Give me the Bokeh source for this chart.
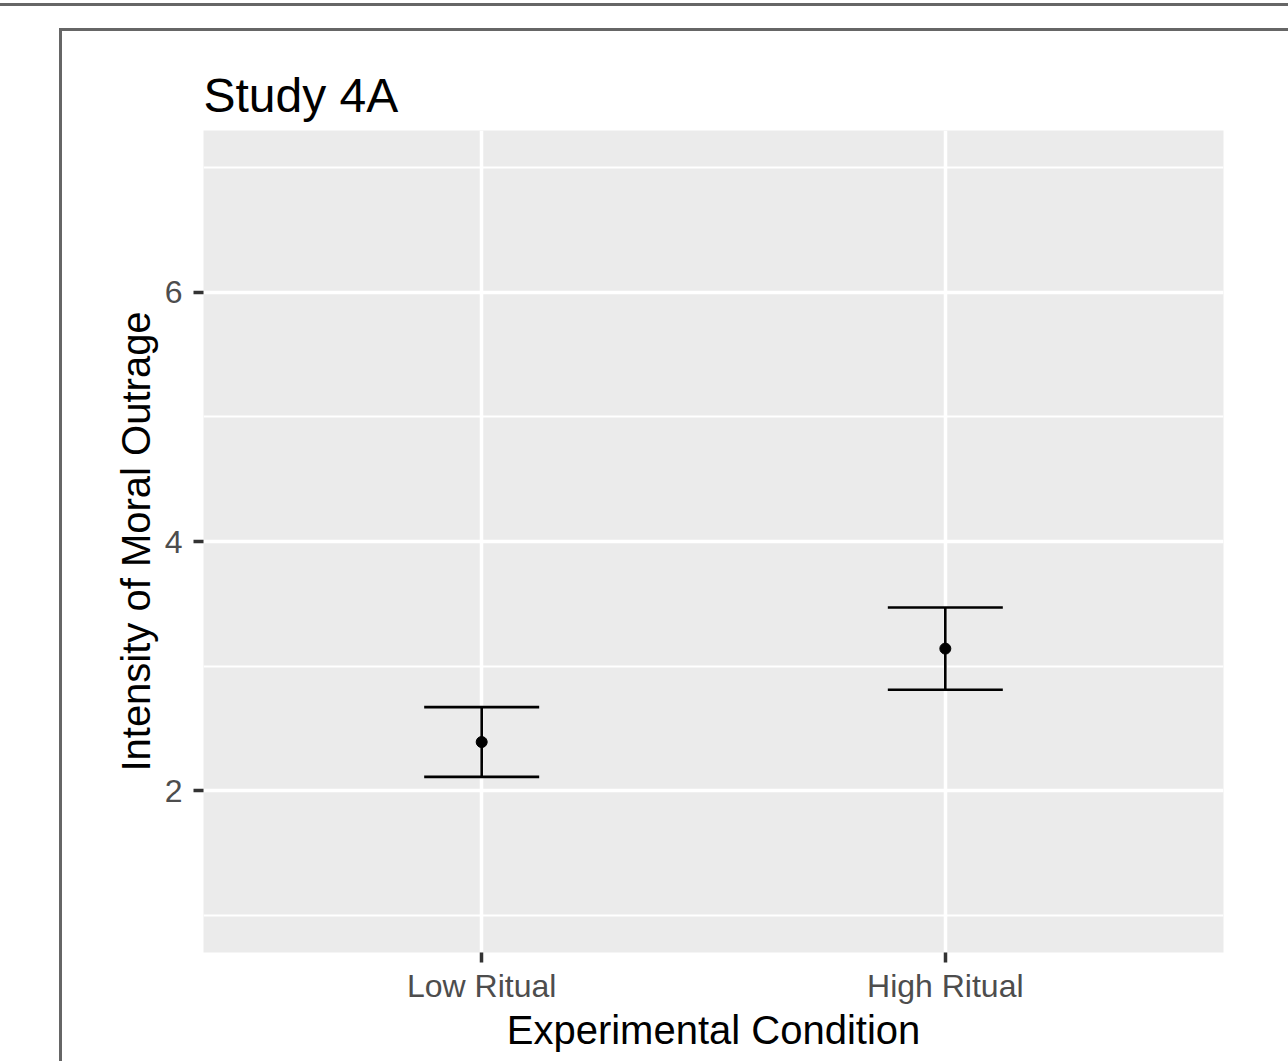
from bokeh.plotting import figure
from bokeh.models import FactorRange, Range1d, FixedTicker, ColumnDataSource, Whisker, TeeHead
from bokeh.embed import file_html
from bokeh.resources import INLINE

conditions = ["Low Ritual", "High Ritual"]
means = [2.39, 3.14]
lower = [2.11, 2.81]
upper = [2.67, 3.47]
y_major = [2, 4, 6]
y_minor = [1, 3, 5, 7]

FONT = "Liberation Sans"

p = figure(
    width=1288, height=1061,
    x_range=FactorRange(*conditions, range_padding=0.1),
    y_range=Range1d(0.7, 7.3),
    output_backend="svg", toolbar_location=None,
    min_border_left=203, min_border_right=65,
    min_border_top=130, min_border_bottom=109,
)
p.styles = {
    "background-color": "white",
    "background-image": "linear-gradient(#666,#666), linear-gradient(#666,#666), linear-gradient(#666,#666)",
    "background-size": "100% 3px, calc(100% - 59px) 3px, 3px calc(100% - 28px)",
    "background-position": "0px 3px, 59px 28px, 59px 28px",
    "background-repeat": "no-repeat",
}
p.border_fill_alpha = 0
p.background_fill_color = "#EBEBEB"
p.outline_line_color = None

# title
p.title.text = "Study 4A"
p.title.text_font = FONT
p.title.text_font_size = "48px"
p.title.text_font_style = "normal"
p.title.text_color = "black"
p.title.align = "left"
p.title.offset = 0
p.title.standoff = 18

# grids
p.xgrid.grid_line_color = "white"
p.xgrid.grid_line_width = 3.5
p.ygrid.ticker = FixedTicker(ticks=y_major, minor_ticks=y_minor)
p.ygrid.grid_line_color = "white"
p.ygrid.grid_line_width = 3.5
p.ygrid.minor_grid_line_color = "white"
p.ygrid.minor_grid_line_width = 1.8

# axes
p.yaxis.ticker = FixedTicker(ticks=y_major, minor_ticks=y_minor)
for ax in (p.xaxis[0], p.yaxis[0]):
    ax.axis_line_color = None
    ax.major_tick_line_color = "#333333"
    ax.major_tick_line_width = 3.5
    ax.major_tick_out = 10
    ax.major_tick_in = 0
    ax.minor_tick_line_color = None
    ax.major_label_text_font = FONT
    ax.major_label_text_font_size = "32px"
    ax.major_label_text_color = "#4D4D4D"
    ax.axis_label_text_font = FONT
    ax.axis_label_text_font_size = "40px"
    ax.axis_label_text_font_style = "normal"
    ax.axis_label_text_color = "black"

p.xaxis.axis_label = "Experimental Condition"
p.xaxis.major_label_standoff = 5
p.xaxis.axis_label_standoff = 1
p.yaxis.axis_label = "Intensity of Moral Outrage"
p.yaxis.major_label_standoff = 11
p.yaxis.axis_label_standoff = 4

src = ColumnDataSource(dict(cond=conditions, mean=means, lower=lower, upper=upper))

w = Whisker(
    source=src, base="cond", lower="lower", upper="upper",
    line_color="black", line_width=2.6,
    upper_head=TeeHead(size=115, line_color="black", line_width=2.6),
    lower_head=TeeHead(size=115, line_color="black", line_width=2.6),
)
p.add_layout(w)
p.scatter("cond", "mean", source=src, size=11, color="black")

open("out.html", "w").write(file_html(p, INLINE))
